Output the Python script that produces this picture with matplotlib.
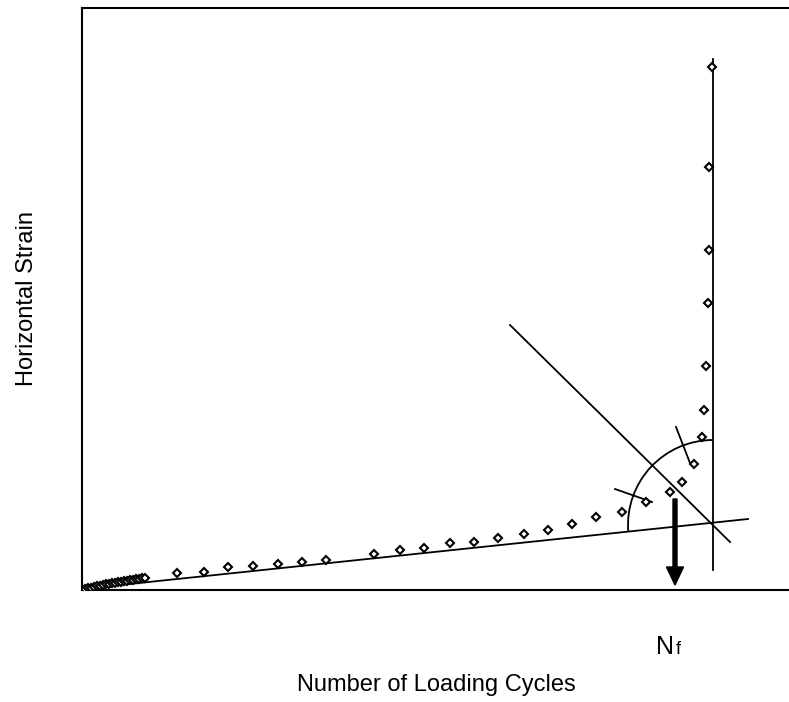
import matplotlib.pyplot as plt
from matplotlib.patches import Arc

plt.rcParams['font.family'] = ['Liberation Sans', 'DejaVu Sans']

# measured strain points (arbitrary units)
cycles = [0, 3, 6, 9, 12, 15, 18, 21, 24, 27, 30, 33, 36, 39, 42, 45, 48, 51, 54, 57, 60, 63,
          95, 122, 146, 171, 196, 220, 244, 292, 318, 342, 368, 392, 416, 442, 466, 490,
          514, 540, 564, 588, 600, 612, 620, 622, 624, 626, 627, 627, 630]
strain = [0, 1, 2, 2.5, 3, 4, 4.5, 5, 6, 6.5, 7, 7.5, 8, 8.5, 9, 9.5, 10, 10.5, 11, 11.5, 12, 12.5,
          17, 18, 23, 24, 26, 28, 30, 36, 40, 42, 47, 48, 52, 56, 60, 66,
          73, 78, 88, 98, 108, 126, 153, 180, 224, 287, 340, 423, 523]

# construction lines
trend_x = [0, 666]
trend_y = [1, 71]
vert_x = [631, 631]
vert_y = [20, 531]
diag_x = [428, 648]
diag_y = [265, 48]
tick1_x = [533, 570]
tick1_y = [101, 88]
tick2_x = [594, 608]
tick2_y = [163, 127]
arc_center = (631, 65)
arc_radius = 85
nf_cycles = 593

fig = plt.figure(figsize=(7.89, 7.02), dpi=100)
ax = fig.add_axes([82 / 789, 112 / 702, 707 / 789, 582 / 702])

lw = 1.3
ax.plot(trend_x, trend_y, color='black', lw=lw)
ax.plot(vert_x, vert_y, color='black', lw=lw)
ax.plot(diag_x, diag_y, color='black', lw=lw)
ax.plot(tick1_x, tick1_y, color='black', lw=lw)
ax.plot(tick2_x, tick2_y, color='black', lw=lw)
ax.add_patch(Arc(arc_center, 2 * arc_radius, 2 * arc_radius, theta1=90, theta2=184,
                 color='black', lw=lw))
ax.plot(cycles, strain, linestyle='none', marker='D', ms=4.5, mfc='white',
        mec='black', mew=1.5, zorder=5)
ax.arrow(nf_cycles, 91, 0, -86, width=4, head_width=17, head_length=18,
         length_includes_head=True, color='black')

ax.set_xlim(0, 707)
ax.set_ylim(0, 582)
ax.set_xticks([])
ax.set_yticks([])
ax.spines['right'].set_visible(False)
for s in ['left', 'top', 'bottom']:
    ax.spines[s].set_linewidth(1.5)

fig.text(436 / 789, 1 - 685 / 702, 'Number of Loading Cycles', ha='center', va='center', fontsize=17)
fig.text(27 / 789, 1 - 298 / 702, 'Horizontal Strain', ha='center', va='center',
         rotation=90, fontsize=17)
fig.text(656 / 789, 1 - 654 / 702, 'N', ha='left', va='baseline', fontsize=18)
fig.text(676 / 789, 1 - 654 / 702, 'f', ha='left', va='baseline', fontsize=13)

fig.savefig('out.png', dpi=100)
